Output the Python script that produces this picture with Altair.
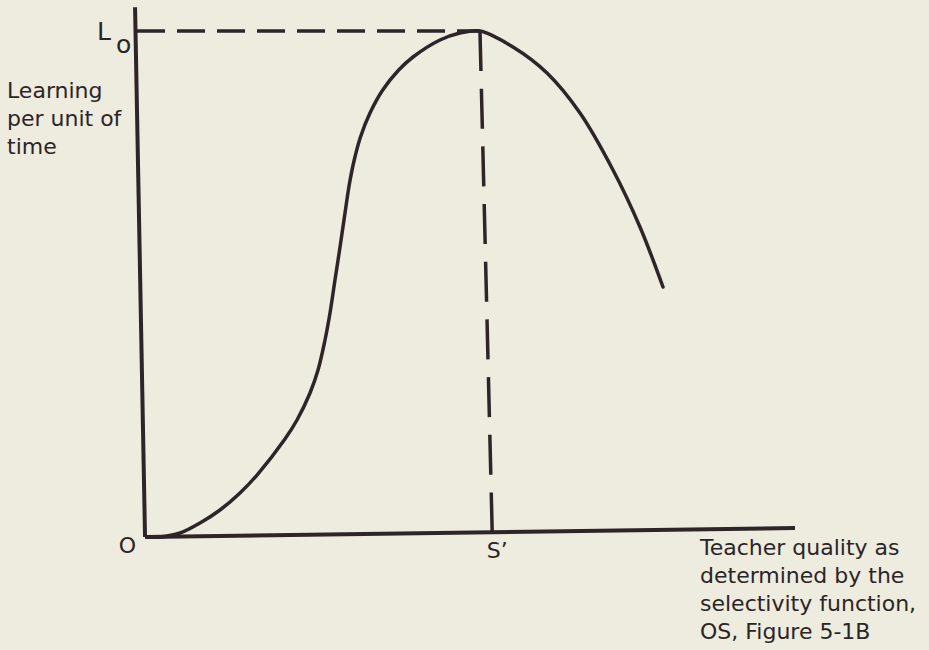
import altair as alt
import pandas as pd

# Learning curve: learning per unit of time vs. teacher quality (both in percent of full scale)
quality = [0, 1.85, 4.95, 8.04, 11.13, 14.22, 16.85, 21.17, 23.03, 25.04, 26.28, 27.36,
           28.13, 28.90, 29.68, 30.45, 31.10, 31.84, 32.84, 34.31, 36.28, 38.75, 40.96,
           45.13, 48.22, 51.31, 56.41, 61.67, 66.77, 71.87, 76.04, 79.60]
learning = [0, 0, 0.79, 2.77, 5.34, 8.70, 12.25, 19.37, 23.12, 28.46, 33.00, 38.93,
            44.27, 50.79, 57.31, 64.03, 69.57, 74.31, 79.05, 83.79, 88.34, 92.29, 94.86,
            98.22, 99.6, 100, 96.84, 91.70, 83.79, 72.53, 61.26, 49.41]

# Optimum point: maximum learning L0 reached at quality S'
peak_quality = 51.31
l_zero = 100
s_prime = 53.2          # where the drop line meets the quality axis
s_prime_axis_y = 0.95

# Hand-drawn axes (start and end points)
axis_x0 = [-0.46, -0.46]
axis_y0 = [0, 0]
axis_x1 = [100, -2.0]
axis_y1 = [1.78, 104.7]

INK = "#2d2528"
TEXT = "#2b2526"
BG = "#eeebdf"
FONT = "DejaVu Sans"

W, H = 647, 506
xs = alt.Scale(domain=[0, 100], nice=False, zero=False)
ys = alt.Scale(domain=[0, 100], nice=False, zero=False)

curve_df = pd.DataFrame({"q": quality, "l": learning, "i": range(len(quality))})
axes_df = pd.DataFrame({"x0": axis_x0, "y0": axis_y0, "x1": axis_x1, "y1": axis_y1})
hdash_df = pd.DataFrame({"x0": [axis_x1[1] + 0.3], "y0": [l_zero], "x1": [peak_quality], "y1": [l_zero]})
vdash_df = pd.DataFrame({"x0": [peak_quality], "y0": [l_zero], "x1": [s_prime], "y1": [s_prime_axis_y]})

def seg(df, width, dash=None):
    kw = dict(color=INK, strokeWidth=width, strokeCap="butt")
    if dash:
        kw["strokeDash"] = dash
    return alt.Chart(df).mark_rule(**kw).encode(
        x=alt.X("x0:Q", scale=xs, axis=None),
        y=alt.Y("y0:Q", scale=ys, axis=None),
        x2="x1:Q",
        y2="y1:Q",
    )

axes = seg(axes_df, 4)
hdash = seg(hdash_df, 3.5, [28, 12])
vdash = seg(vdash_df, 3.5, [40, 17.7])

curve = alt.Chart(curve_df).mark_line(
    color=INK, strokeWidth=3.5, interpolate="catmull-rom", strokeCap="round"
).encode(
    x=alt.X("q:Q", scale=xs, axis=None),
    y=alt.Y("l:Q", scale=ys, axis=None),
    order="i:Q",
)

def label(text, x, y, dx, dy, size=22, align="left"):
    df = pd.DataFrame({"x": [x], "y": [y], "t": [text]})
    return alt.Chart(df).mark_text(
        font=FONT, fontSize=size, color=TEXT, align=align, baseline="alphabetic",
        dx=dx, dy=dy, lineHeight=28, lineBreak="\n",
    ).encode(
        x=alt.X("x:Q", scale=xs, axis=None),
        y=alt.Y("y:Q", scale=ys, axis=None),
        text="t:N",
    )

labels = [
    label("L", 0, l_zero, -51, 9, size=25),
    label("o", 0, l_zero, -32, 22, size=25),
    label("Learning\nper unit of\ntime", 0, l_zero, -141, 67),
    label("O", 0, 0, -12, 16, align="right"),
    label("S’", s_prime, s_prime_axis_y, 5, 26, align="center"),
    label("Teacher quality as\ndetermined by the\nselectivity function,\nOS, Figure 5-1B",
          100, axis_y1[0], -95, 27),
]

chart = alt.layer(axes, hdash, vdash, curve, *labels).properties(
    width=W,
    height=H,
    autosize=alt.AutoSizeParams(type="none"),
    padding={"left": 148, "top": 31, "right": 929 - 148 - W, "bottom": 650 - 31 - H},
    background=BG,
).configure_view(stroke=None)

chart.save("out.html", embed_options={"renderer": "svg", "actions": False})
